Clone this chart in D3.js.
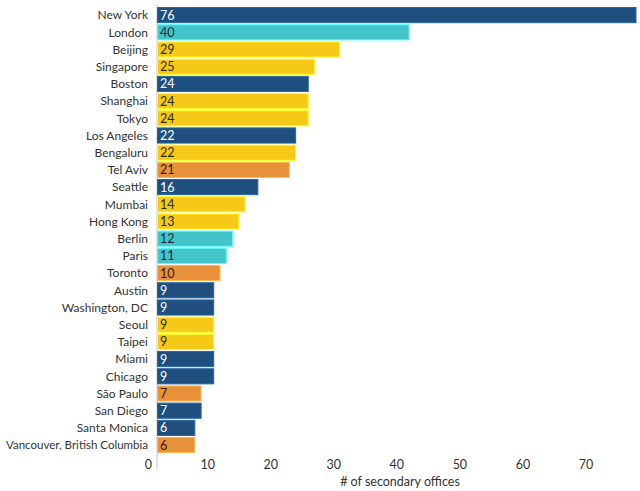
<!DOCTYPE html>
<html><head><meta charset="utf-8">
<script src="https://cdn.jsdelivr.net/npm/d3@7"></script>
<style>body{margin:0;background:#fff}svg{display:block}text{font-family:Lato,"Open Sans",sans-serif}</style>
</head><body><svg id="c" width="640" height="491"></svg>
<script>
const cities = ["New York","London","Beijing","Singapore","Boston","Shanghai","Tokyo","Los Angeles","Bengaluru","Tel Aviv","Seattle","Mumbai","Hong Kong","Berlin","Paris","Toronto","Austin","Washington, DC","Seoul","Taipei","Miami","Chicago","São Paulo","San Diego","Santa Monica","Vancouver, British Columbia"];
const offices = [76,40,29,25,24,24,24,22,22,21,16,14,13,12,11,10,9,9,9,9,9,9,7,7,6,6];
const regions = ["US","Europe","Asia","Asia","US","Asia","Asia","US","Asia","Other","US","Asia","Asia","Europe","Europe","Other","US","US","Asia","Asia","US","US","Other","US","US","Other"];
const xTicks = [0,10,20,30,40,50,60,70];
const xTitle = "# of secondary offices";

const data = cities.map((c,i)=>({city:c, v:offices[i], r:regions[i]}));
const color = d3.scaleOrdinal().domain(["US","Europe","Asia","Other"]).range(["#1f4f7f","#42c4c9","#f6c817","#e9913a"]);
const textColor = {US:"#ffffff", Europe:"#1a2a3a", Asia:"#2a2a1a", Other:"#2a1a0a"};
const FS = 12;

const svg = d3.select("#c");
const x = d3.scaleLinear().domain([0,76]).range([157,636]);
const y = d3.scaleBand().domain(cities).range([6.5,453.7]).paddingInner(0.12).paddingOuter(0.06);

svg.append("line").attr("x1",157).attr("x2",157).attr("y1",4).attr("y2",470).attr("stroke","#d8d8d8").attr("stroke-width",1.5);

const g = svg.append("g");
g.selectAll("rect").data(data).join("rect")
  .attr("x",x(0)+0.5).attr("y",d=>y(d.city))
  .attr("width",d=>x(d.v)-x(0)-0.5).attr("height",y.bandwidth())
  .attr("fill",d=>color(d.r))
  .attr("stroke",d=>d3.color(color(d.r)).brighter(0.7))
  .attr("stroke-width",1);

g.selectAll("text.v").data(data).join("text").attr("class","v")
  .attr("x",x(0)+3).attr("y",d=>y(d.city)+y.bandwidth()/2)
  .attr("dy","0.36em").attr("font-size",FS+0.5)
  .attr("fill",d=>textColor[d.r]).text(d=>d.v);

const labels = g.selectAll("text.c").data(data).join("text").attr("class","c")
  .attr("x",148).attr("y",d=>y(d.city)+y.bandwidth()/2)
  .attr("dy","0.36em").attr("font-size",FS).attr("text-anchor","end")
  .attr("fill","#333").text(d=>d.city);
// fit longest label into available width (6..148)
labels.each(function(){
  const w = this.getComputedTextLength();
  if (w > 142) d3.select(this).attr("textLength",142).attr("lengthAdjust","spacingAndGlyphs");
});

svg.selectAll("text.t").data(xTicks).join("text").attr("class","t")
  .attr("x",d=>x(d)-5).attr("y",464).attr("dy","0.36em")
  .attr("text-anchor","end").attr("font-size",FS+0.5).attr("fill","#333").text(d=>d);

svg.append("text").attr("x",400).attr("y",481).attr("dy","0.36em").attr("text-anchor","middle")
  .attr("font-size",FS+0.5).attr("fill","#333").text(xTitle);
</script></body></html>
